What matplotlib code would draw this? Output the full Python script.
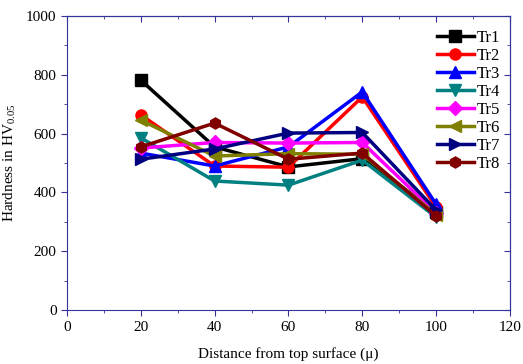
import numpy as np
import matplotlib.pyplot as plt
from matplotlib.ticker import MultipleLocator

plt.rcParams['font.family'] = ['Liberation Serif', 'DejaVu Serif']
plt.rcParams['mathtext.fontset'] = 'custom'
plt.rcParams['mathtext.rm'] = 'Liberation Serif'
plt.rcParams['mathtext.it'] = 'Liberation Serif:italic'

depth = [20, 40, 60, 80, 100]
tr1 = [782, 555, 487, 515, 335]
tr2 = [664, 490, 486, 725, 350]
tr3 = [534, 490, 555, 742, 360]
tr4 = [586, 439, 425, 510, 316]
tr5 = [551, 570, 568, 570, 330]
tr6 = [646, 524, 532, 530, 325]
tr7 = [513, 548, 602, 604, 340]
tr8 = [555, 636, 513, 534, 320]

series = [("Tr1", tr1, "black", "s"),
          ("Tr2", tr2, "red", "o"),
          ("Tr3", tr3, "blue", "^"),
          ("Tr4", tr4, "#008080", "v"),
          ("Tr5", tr5, "magenta", "D"),
          ("Tr6", tr6, "#808000", "<"),
          ("Tr7", tr7, "#000080", ">"),
          ("Tr8", tr8, "#800000", "h")]

fig = plt.figure(figsize=(5.23, 3.64), dpi=100)
ax = fig.add_axes([0.128, 0.148, 0.847, 0.808])

for name, vals, col, mk in series:
    ms = 7 if mk == "D" else 8
    ax.plot(depth, vals, color=col, marker=mk, markersize=ms, linewidth=2.5, label=name)

ax.set_xlim(0, 120)
ax.set_ylim(0, 1000)
ax.xaxis.set_major_locator(MultipleLocator(20))
ax.xaxis.set_minor_locator(MultipleLocator(10))
ax.yaxis.set_major_locator(MultipleLocator(200))
ax.yaxis.set_minor_locator(MultipleLocator(100))

spine_col = "#333399"
for s in ax.spines.values():
    s.set_color(spine_col)
ax.tick_params(which="both", direction="out", color=spine_col, labelsize=11, top=False, right=False)
ax.tick_params(which="major", length=4)
ax.tick_params(which="minor", length=2.5)
ax2 = ax.secondary_xaxis("top")
ax2.xaxis.set_major_locator(MultipleLocator(20))
ax2.xaxis.set_minor_locator(MultipleLocator(10))
ax2.tick_params(which="both", direction="in", color=spine_col, labeltop=False)
ax2.tick_params(which="major", length=4)
ax2.tick_params(which="minor", length=2.5)
ax2.spines["top"].set_color(spine_col)
ay2 = ax.secondary_yaxis("right")
ay2.yaxis.set_major_locator(MultipleLocator(200))
ay2.yaxis.set_minor_locator(MultipleLocator(100))
ay2.tick_params(which="both", direction="in", color=spine_col, labelright=False)
ay2.tick_params(which="major", length=4)
ay2.tick_params(which="minor", length=2.5)
ay2.spines["right"].set_color(spine_col)

ax.set_xlabel("Distance from top surface (\u03bc)", fontsize=11, labelpad=10)
ax.set_ylabel("Hardness in HV$_{0.05}$", fontsize=11, labelpad=6)

ax.legend(loc="upper right", bbox_to_anchor=(0.997, 0.98), frameon=False, fontsize=12,
          handlelength=2.2, labelspacing=0.12, handletextpad=0.2, borderaxespad=0.1)

fig.savefig("out.png", dpi=100)
